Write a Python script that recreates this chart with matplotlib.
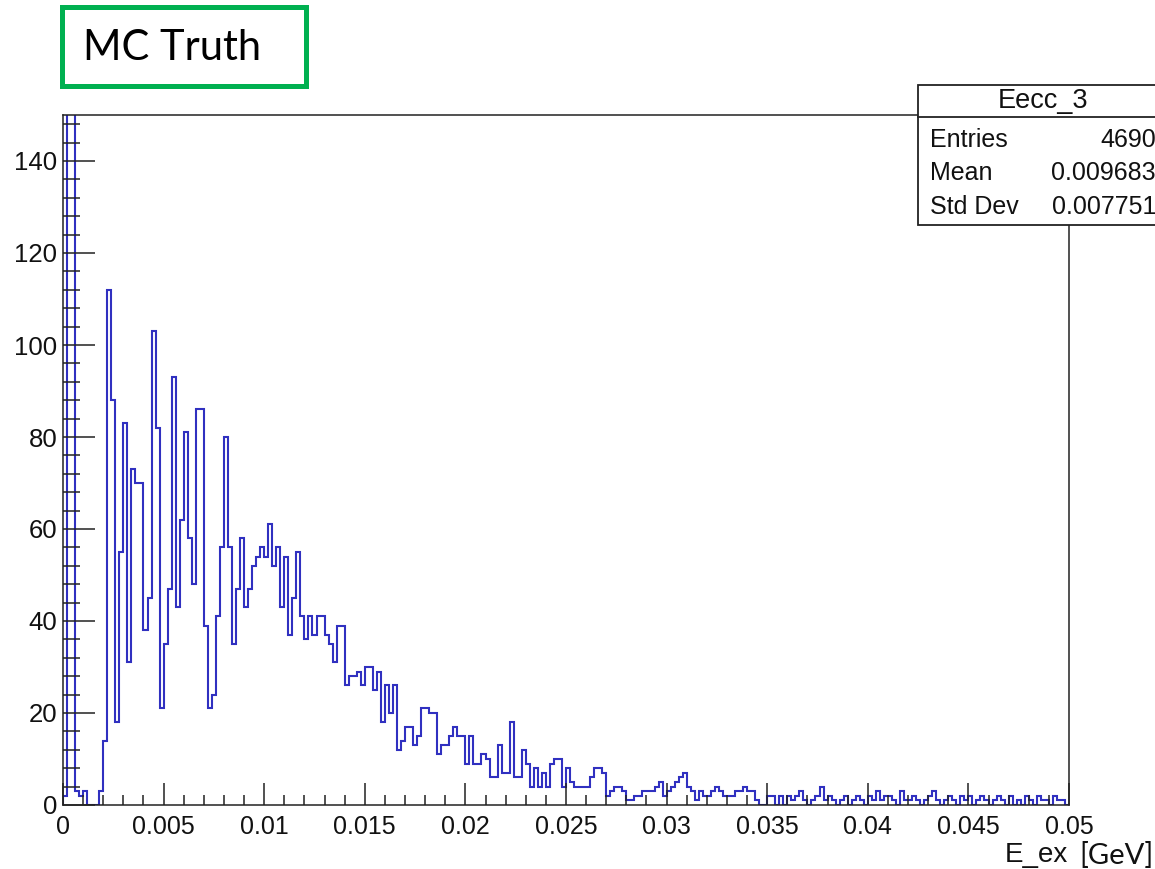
import numpy as np
import matplotlib
matplotlib.use("Agg")
import matplotlib.pyplot as plt
from matplotlib.patches import Rectangle
from matplotlib.lines import Line2D
from matplotlib.ticker import MultipleLocator, FixedLocator

# ---- histogram definition -------------------------------------------------
x_min, x_max, n_bins = 0.0, 0.05, 250

counts = [
    # 0.000 - 0.002
    2, 260, 240, 3, 2, 3, 0, 0, 0, 3,
    14, 112, 88, 18, 55, 83, 31, 73, 70, 70,
    # 0.004 - 0.006
    38, 45, 103, 82, 21, 35, 47, 93, 43, 62,
    81, 58, 48, 86, 86, 39, 21, 24, 41, 56,
    # 0.008 - 0.010
    80, 56, 35, 47, 58, 43, 47, 52, 54, 56,
    54, 61, 52, 56, 43, 54, 37, 45, 55, 41,
    # 0.012 - 0.014
    36, 41, 37, 41, 41, 37, 35, 31, 39, 39,
    26, 28, 28, 29, 26, 30, 30, 25, 29, 18,
    # 0.016 - 0.018
    26, 20, 26, 12, 14, 17, 17, 13, 15, 21,
    21, 20, 20, 11, 13, 13, 15, 17, 15, 15,
    # 0.020 - 0.022
    9, 15, 9, 9, 11, 10, 6, 6, 13, 7,
    7, 18, 6, 6, 12, 9, 4, 8, 4, 7,
    # 0.024 - 0.026
    4, 9, 10, 10, 4, 8, 5, 4, 4, 4,
    4, 6, 8, 8, 7, 2, 3, 4, 4, 3,
    # 0.028 - 0.030
    1, 1, 2, 2, 3, 3, 3, 4, 5, 2,
    3, 4, 5, 6, 7, 4, 3, 1, 3, 2,
    # 0.032 - 0.034
    2, 3, 4, 3, 2, 2, 2, 3, 3, 4,
    3, 3, 1, 0, 0, 2, 2, 0, 2, 0,
    # 0.036 - 0.038
    2, 1, 2, 3, 1, 0, 1, 2, 4, 1,
    2, 1, 0, 1, 2, 0, 1, 2, 1, 0,
    # 0.040 - 0.042
    2, 1, 3, 1, 2, 2, 1, 0, 3, 1,
    1, 2, 1, 0, 1, 2, 3, 1, 0, 1,
    # 0.044 - 0.046
    2, 1, 0, 2, 1, 2, 0, 1, 2, 1,
    0, 1, 2, 1, 0, 2, 0, 1, 0, 2,
    # 0.048 - 0.050
    1, 0, 2, 1, 1, 0, 2, 1, 1, 0,
]

y_max = 150
x_major = [0, 0.005, 0.01, 0.015, 0.02, 0.025, 0.03, 0.035, 0.04, 0.045, 0.05]
x_labels = ["0", "0.005", "0.01", "0.015", "0.02", "0.025", "0.03", "0.035",
            "0.04", "0.045", "0.05"]
y_major = [0, 20, 40, 60, 80, 100, 120, 140]
y_labels = ["0", "20", "40", "60", "80", "100", "120", "140"]

hist_name = "Eecc_3"
stat_names = ["Entries", "Mean", "Std Dev"]
stat_values = ["4690", "0.009683", "0.007751"]

x_title = "E_ex"
x_unit = "[GeV]"
panel_label = "MC Truth"

# ---- figure ---------------------------------------------------------------
W, H = 1155, 869
fig = plt.figure(figsize=(W / 100, H / 100), dpi=100)
fig.patch.set_facecolor("white")


def fx(px):
    return px / W


def fy(py):
    return 1 - py / H


root_font = ["Liberation Sans", "DejaVu Sans"]
slide_font = ["Lato", "DejaVu Sans"]
ink = "#111111"

left, right, top, bottom = 63, 1069, 115, 805
ax = fig.add_axes([fx(left), fy(bottom), fx(right - left), (bottom - top) / H])

edges = np.linspace(x_min, x_max, n_bins + 1)
ax.stairs(counts, edges, baseline=0, color="#3030c0", linewidth=1.5)

ax.set_xlim(x_min, x_max)
ax.set_ylim(0, y_max)

for s in ax.spines.values():
    s.set_linewidth(1.1)
    s.set_color("#222222")

ax.xaxis.set_major_locator(FixedLocator(x_major))
ax.xaxis.set_minor_locator(MultipleLocator(0.001))
ax.yaxis.set_major_locator(FixedLocator(y_major))
ax.yaxis.set_minor_locator(MultipleLocator(4))
ax.set_xticklabels(x_labels)
ax.set_yticklabels(y_labels)

ax.tick_params(axis="x", which="major", direction="in", length=16, width=1.1,
               color="#222222", pad=7, labelsize=18)
ax.tick_params(axis="x", which="minor", direction="in", length=7.5, width=1.1,
               color="#222222")
ax.tick_params(axis="y", which="major", direction="in", length=23, width=1.1,
               color="#222222", pad=4, labelsize=18.5)
ax.tick_params(axis="y", which="minor", direction="in", length=12, width=1.1,
               color="#222222")
for lab in ax.get_xticklabels() + ax.get_yticklabels():
    lab.set_family(root_font)
    lab.set_color(ink)

# axis title, right-aligned at the end of the axis
fig.text(fx(1068), fy(855), x_title, ha="right", va="center", fontsize=20,
         family=root_font, color=ink)
fig.text(fx(1079), fy(855), x_unit, ha="left", va="center", fontsize=21,
         family=slide_font, color=ink)

# ---- statistics box -------------------------------------------------------
bx0, by0, bx1, by1, bsep = 918, 85, 1175, 225, 117
fig.patches.append(Rectangle((fx(bx0), fy(by1)), fx(bx1 - bx0), (by1 - by0) / H,
                             transform=fig.transFigure, facecolor="white",
                             edgecolor="#222222", linewidth=1.3, zorder=5))
fig.lines.append(Line2D([fx(bx0), fx(bx1)], [fy(bsep), fy(bsep)],
                        transform=fig.transFigure, color="#222222",
                        linewidth=1.3, zorder=6))
fig.text(fx(1043), fy(101), hist_name, ha="center", va="center", fontsize=19.5,
         family=root_font, color=ink, zorder=7)
for i, (name, val) in enumerate(zip(stat_names, stat_values)):
    yy = 140 + i * 33.5
    fig.text(fx(930), fy(yy), name, ha="left", va="center", fontsize=18,
             family=root_font, color=ink, zorder=7)
    fig.text(fx(1156), fy(yy), val, ha="right", va="center", fontsize=18,
             family=root_font, color=ink, zorder=7)

# ---- label box in the corner ---------------------------------------------
fig.patches.append(Rectangle((fx(62), fy(86)), fx(306 - 62), (86 - 7) / H,
                             transform=fig.transFigure, facecolor="white",
                             edgecolor="#00b050", linewidth=3.6, zorder=5))
fig.text(fx(83), fy(48), panel_label, ha="left", va="center", fontsize=30,
         family=slide_font, color="black", zorder=6)

fig.savefig("out.png", dpi=100, facecolor="white")
